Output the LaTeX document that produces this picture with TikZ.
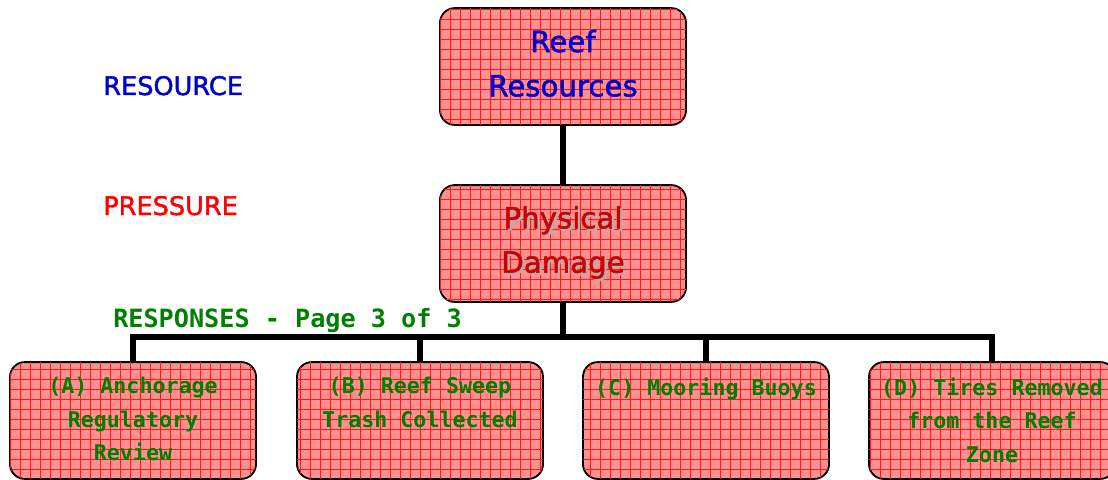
\documentclass[tikz,border=0pt]{standalone}
\usepackage{fontspec}
\usepackage{xcolor}
\usepackage{tikz}
\usetikzlibrary{positioning, patterns.meta}
\newfontfamily\labelfont[BoldFont=DejaVu Sans, BoldFeatures={FakeBold=1.6}]{DejaVu Sans}
\newfontfamily\respfont{DejaVu Sans Mono}
\definecolor{resblue}{HTML}{0000CC}
\definecolor{presred}{HTML}{FF0000}
\definecolor{dmgred}{HTML}{CC0000}
\definecolor{respgreen}{HTML}{008000}
\definecolor{boxpink}{HTML}{FF9090}
\definecolor{gridred}{HTML}{FF1A1A}
\definecolor{shadegray}{HTML}{B0B0B0}
\newcommand\shadowed[1]{\rlap{\kern1.5pt\raisebox{-1.5pt}{\textcolor{shadegray}{#1}}}#1}

\begin{document}
\begin{tikzpicture}[x=0.025cm, y=-0.025cm,
    card/.style={draw=black, line width=1.3pt, rounded corners=0.37cm,
      minimum width=6.15cm, minimum height=2.92cm, inner sep=0pt, align=center,
      fill=boxpink,
      postaction={pattern={Hatch[distance=0.25cm, angle=0, line width=0.45pt]}, pattern color=gridred}},
    tiertext/.style={anchor=base west, inner sep=0pt, font=\labelfont\bfseries\fontsize{18.2pt}{22pt}\selectfont},
    boxtext/.style={font=\labelfont\bfseries\fontsize{20.8pt}{31.5pt}\selectfont},
    resptext/.style={anchor=north, inner sep=0pt, align=center, text=respgreen,
      font=\respfont\bfseries\fontsize{15.4pt}{23.8pt}\selectfont},
    link/.style={line width=4.3pt}]
  \useasboundingbox (0,0) rectangle (1108,479);

  % tier labels
  \node[tiertext, text=resblue] (tres) at (103,95) {RESOURCE};
  \node[tiertext, text=presred] (tpres) at (103,215) {PRESSURE};
  \node[tiertext, text=respgreen, font=\respfont\bfseries\fontsize{17.9pt}{22pt}\selectfont]
    (tresp) at (113,327) {RESPONSES - Page 3 of 3};

  % top of the tree
  \node[card, boxtext, text=resblue, text depth=0.17cm] (reef) at (563,66.5) {Reef\\Resources};
  \node[card, boxtext, text=dmgred] (dmg) at (563,243.5) {\shadowed{Physical}\\\shadowed{Damage}};

  % responses
  \node[card] (boxa) at (133,420.5) {};
  \node[card] (boxb) at (420,420.5) {};
  \node[card] (boxc) at (706,420.5) {};
  \node[card] (boxd) at (992,420.5) {};
  \node[resptext, below=0.4cm of boxa.north] (texta) {(A) Anchorage\\Regulatory\\Review};
  \node[resptext, below=0.4cm of boxb.north] (textb) {(B) Reef Sweep\\Trash Collected};
  \node[resptext, below=0.4cm of boxc.north] (textc) {(C) Mooring Buoys};
  \node[resptext, below=0.4cm of boxd.north] (textd) {(D) Tires Removed\\from the Reef\\Zone};

  % connectors
  \coordinate (bus) at (563,337);
  \draw[link] (reef.south) -- (dmg.north);
  \draw[link] (dmg.south) -- (bus);
  \draw[link] (boxa.north) -- (boxa.north |- bus) -- (boxd.north |- bus) -- (boxd.north);
  \foreach \b in {boxb, boxc}
    \draw[link] (\b.north) -- (\b.north |- bus);
\end{tikzpicture}
\end{document}
